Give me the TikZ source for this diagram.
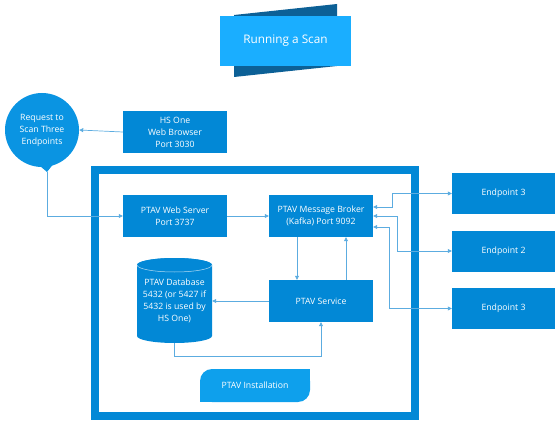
\documentclass[tikz,border=0pt]{standalone}
\usepackage{fontspec}
\setmainfont{Open Sans}
\usetikzlibrary{arrows.meta}
\definecolor{boxblue}{RGB}{2,136,214}
\definecolor{bubblue}{RGB}{10,148,226}
\definecolor{instblue}{RGB}{14,160,236}
\definecolor{titlefront}{RGB}{26,174,255}
\definecolor{titleback}{RGB}{12,96,150}
\definecolor{lineblue}{RGB}{92,172,224}
\begin{document}
\begin{tikzpicture}[x=1pt,y=-1pt,
  txt/.style={font=\fontsize{8.7}{12}\selectfont},
  box/.style={fill=boxblue,draw=none,text=white,minimum width=104pt,minimum height=42pt,align=center,inner sep=0pt,txt},
  conn/.style={draw=lineblue,line width=0.7pt,-{Triangle[length=4pt,width=4pt]}},
  bconn/.style={draw=lineblue,line width=0.7pt,{Triangle[length=4pt,width=4pt]}-{Triangle[length=4pt,width=4pt]}}]
\useasboundingbox (0,0) rectangle (560,425);
% title
\fill[titleback] (234,15) -- (337,4) -- (337,66) -- (234,77) -- cycle;
\node[fill=titlefront,text=white,minimum width=131pt,minimum height=50pt,inner sep=0pt,font=\fontsize{11.8}{14}\selectfont] (title) at (285.5,41) {Running a Scan};
% frame
\draw[boxblue,line width=8.5pt] (95,170) rectangle (415,416);
% bubble
\node[circle,fill=bubblue,minimum size=74pt,inner sep=0pt,text=white,align=center,txt] (req) at (42,130) {Request to\\Scan Three\\Endpoints};
\coordinate (tip) at (47,172);
\fill[bubblue] (33,160) -- (tip) -- (58,158) -- cycle;
% boxes
\node[box] (hs) at (175,132) {HS One\\Web Browser\\Port 3030};
\node[box] (web) at (175,216) {PTAV Web Server\\Port 3737};
\node[box] (broker) at (321,216) {PTAV Message Broker\\(Kafka) Port 9092};
\node[box] (svc) at (321,301) {PTAV Service};
\node[box,minimum width=103pt,minimum height=41pt] (ep1) at (503.5,193.5) {Endpoint 3};
\node[box,minimum width=103pt,minimum height=41pt] (ep2) at (503.5,251) {Endpoint 2};
\node[box,minimum width=103pt,minimum height=41pt] (ep3) at (503.5,308.5) {Endpoint 3};
% database cylinder
\fill[boxblue] (137,265) -- (137,336) arc[start angle=180,end angle=360,x radius=37.5pt,y radius=7pt] -- (212,265) arc[start angle=0,end angle=180,x radius=37.5pt,y radius=7pt] -- cycle;
\fill[boxblue] (174.5,265) ellipse[x radius=37.5pt,y radius=7pt];
\draw[white!70!boxblue,line width=0.5pt] (137,265) arc[start angle=180,end angle=360,x radius=37.5pt,y radius=7pt];
\node[minimum width=75pt,minimum height=85pt,inner sep=0pt,text=white,align=center,txt] (db) at (174.5,300.5) {PTAV Database\\5432 (or 5427 if\\5432 is used by\\HS One)};
% installation
\fill[instblue,rounded corners=12pt] (200,369) rectangle (310,402);
\fill[instblue] (290,369) rectangle (310,385);
\fill[instblue] (200,385) rectangle (220,402);
\node[text=white,txt,inner sep=0pt] (inst) at (255,385.5) {PTAV Installation};
% connectors
\draw[conn] (hs.west) -- (req.east);
\draw[conn] (tip) |- (web.west);
\draw[conn] (web.east) -- (broker.west);
\draw[conn] ([xshift=-24pt]broker.south) -- ([xshift=-24pt]svc.north);
\draw[conn] ([xshift=25pt]svc.north) -- ([xshift=25pt]broker.south);
\draw[conn] (svc.west) -- (svc.west -| db.east);
\draw[conn] (db.south) -- ++(0,13) -| (svc.south);
\draw[bconn] ([yshift=9pt]broker.east) -- ++(19,0) |- (ep1.west);
\draw[bconn] (broker.east) -- ++(24,0) |- (ep2.west);
\draw[bconn] ([yshift=-11pt]broker.east) -- ++(16,0) |- (ep3.west);
\end{tikzpicture}
\end{document}
